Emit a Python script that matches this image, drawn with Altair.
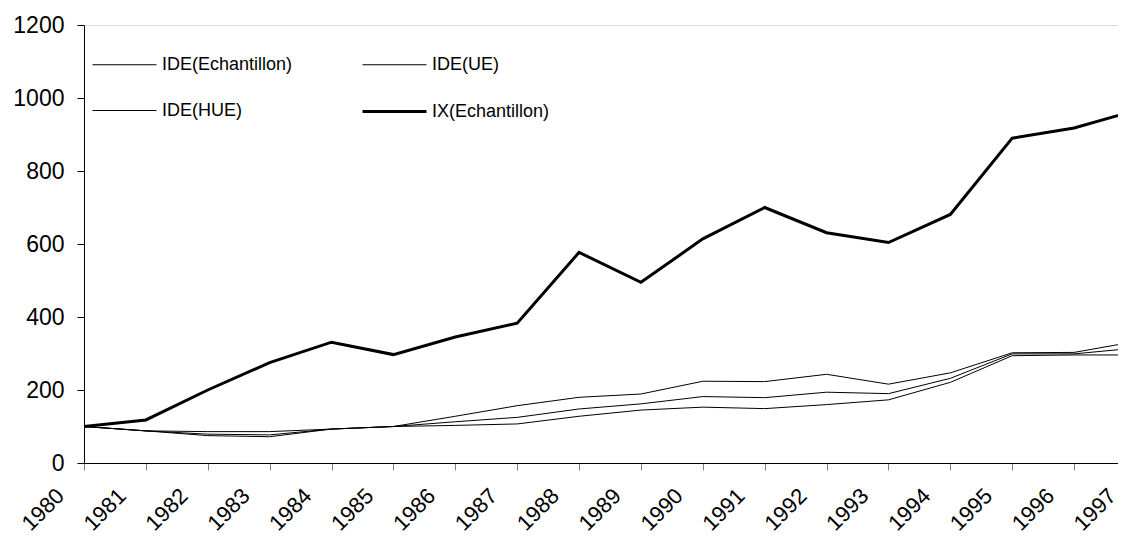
import altair as alt
import pandas as pd

years = [1980, 1981, 1982, 1983, 1984, 1985, 1986, 1987, 1988,
         1989, 1990, 1991, 1992, 1993, 1994, 1995, 1996, 1997]
series_names = ["IDE(Echantillon)", "IDE(UE)", "IDE(HUE)", "IX(Echantillon)"]
ide_ech = [100, 88, 75, 72, 93, 100, 128, 157, 180, 189, 224, 223, 243, 216, 247, 302, 303, 333]
ide_ue = [100, 88, 79, 77, 93, 100, 113, 125, 148, 162, 182, 179, 194, 190, 232, 299, 299, 315]
ide_hue = [100, 88, 86, 86, 93, 100, 103, 107, 128, 145, 153, 149, 160, 173, 221, 294, 296, 296]
ix_ech = [100, 118, 200, 275, 331, 297, 345, 383, 577, 495, 614, 700, 631, 604, 681, 890, 918, 966]
y_ticks = [0, 200, 400, 600, 800, 1000, 1200]

rows = []
for name, vals in zip(series_names, [ide_ech, ide_ue, ide_hue, ix_ech]):
    for yr, v in zip(years, vals):
        rows.append({"year": yr, "value": v, "series": name})
df = pd.DataFrame(rows)

# legend fills column-wise: column 1 = Echantillon, HUE ; column 2 = UE, IX
legend_order = ["IDE(Echantillon)", "IDE(HUE)", "IDE(UE)", "IX(Echantillon)"]
widths = [1, 1, 1, 3]

chart = alt.Chart(df).mark_line().encode(
    x=alt.X("year:Q",
            scale=alt.Scale(domain=[1980, 1997], nice=False, zero=False,
                            range=[0, 1052]),
            axis=alt.Axis(values=years, format="d", title=None, grid=False,
                          labelAngle=-45, labelAlign="right", labelBaseline="middle",
                          labelOffset=-24, labelPadding=22, labelFontSize=22,
                          labelFlush=False, labelOverlap=False,
                          tickSize=7, tickColor="#808080", domainColor="#000000",
                          labelColor="#000000")),
    y=alt.Y("value:Q",
            scale=alt.Scale(domain=[0, 1200], nice=False),
            axis=alt.Axis(values=y_ticks, format="d", title=None, grid=False,
                          labelFontSize=23, labelPadding=13, tickSize=7,
                          tickColor="#000000", domainColor="#000000",
                          labelColor="#000000")),
    stroke=alt.Stroke("series:N",
                      scale=alt.Scale(domain=legend_order,
                                      range=["#000000", "#000000", "#000000", "#000000"]),
                      title=None,
                      legend=alt.Legend(orient="none", legendX=7, legendY=7, columns=2,
                                        symbolType="stroke", symbolSize=4096,
                                        labelFontSize=18, labelOffset=4,
                                        columnPadding=63, rowPadding=4,
                                        labelColor="#000000")),
    strokeWidth=alt.StrokeWidth("series:N",
                                scale=alt.Scale(type="ordinal", domain=legend_order,
                                                range=widths),
                                title=None),
    detail="series:N",
).properties(
    width=1034,
    height=438,
    autosize=alt.AutoSizeParams(type="none"),
    padding={"left": 76, "top": 17, "right": 0, "bottom": 74},
).configure_view(
    stroke=None
).configure(
    font="Liberation Sans"
)

chart.save("out.html", embed_options={"renderer": "svg", "actions": False})
